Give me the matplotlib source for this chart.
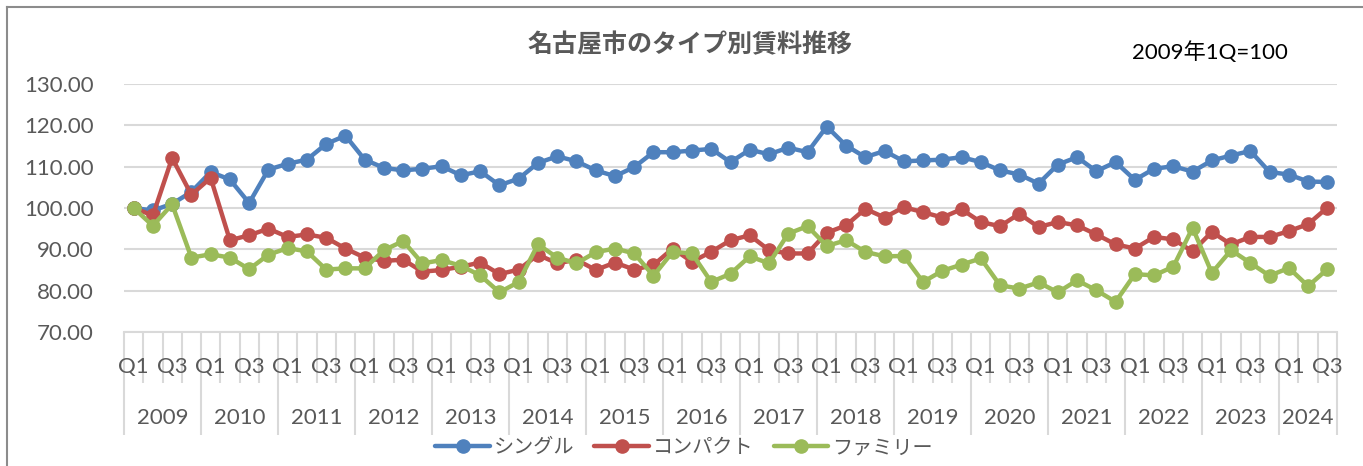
import matplotlib
matplotlib.use("Agg")
import matplotlib.pyplot as plt
import matplotlib.transforms as mtransforms
from matplotlib.lines import Line2D
import numpy as np

plt.rcParams["font.family"] = ["Lato", "Noto Sans CJK JP", "DejaVu Sans"]

# 2009年1Q=100 の指数（四半期ごと）
years = list(range(2009, 2025))
quarters = ["Q1", "Q2", "Q3", "Q4"]

single = [100.0, 99.4, 101.0, 103.9, 108.7, 106.9, 101.2, 109.3, 110.7, 111.7,
          115.5, 117.5, 111.7, 109.7, 109.1, 109.5, 110.1, 107.9, 108.9, 105.5,
          107.1, 110.9, 112.5, 111.3, 109.1, 107.7, 109.9, 113.5, 113.5, 113.9,
          114.3, 111.1, 114.1, 113.0, 114.6, 113.5, 119.7, 115.1, 112.3, 113.8,
          111.3, 111.5, 111.7, 112.3, 111.1, 109.1, 108.1, 105.9, 110.5, 112.3,
          108.9, 111.1, 106.8, 109.5, 110.1, 108.8, 111.5, 112.7, 113.8, 108.7,
          108.1, 106.4, 106.3]
compact = [100.0, 98.2, 112.1, 103.2, 107.3, 92.2, 93.4, 95.0, 93.0, 93.6,
           92.8, 90.2, 88.0, 87.2, 87.5, 84.6, 85.0, 85.8, 86.8, 84.0,
           85.1, 88.7, 86.6, 87.5, 85.0, 86.8, 85.1, 86.2, 90.2, 87.0,
           89.4, 92.2, 93.4, 89.8, 89.0, 89.0, 94.0, 95.8, 99.8, 97.7,
           100.2, 99.0, 97.7, 99.7, 96.6, 95.6, 98.6, 95.4, 96.6, 95.8,
           93.6, 91.2, 90.2, 93.0, 92.4, 89.5, 94.2, 91.2, 93.0, 93.0,
           94.4, 96.1, 100.1]
family = [100.0, 95.7, 100.9, 88.0, 88.8, 88.0, 85.2, 88.7, 90.3, 89.5,
          85.1, 85.4, 85.4, 89.8, 92.0, 86.6, 87.4, 86.0, 83.7, 79.6,
          82.1, 91.2, 88.0, 86.6, 89.3, 90.2, 89.0, 83.6, 89.4, 89.0,
          82.1, 84.1, 88.3, 86.6, 93.8, 95.6, 90.8, 92.2, 89.4, 88.3,
          88.4, 82.1, 84.8, 86.3, 87.8, 81.3, 80.5, 82.0, 79.6, 82.5,
          80.1, 77.3, 84.0, 83.7, 85.8, 95.2, 84.3, 89.8, 86.7, 83.6,
          85.5, 81.1, 85.2]

series = [("シングル", single, "#4F81BD"),
          ("コンパクト", compact, "#C0504D"),
          ("ファミリー", family, "#9BBB59")]

# 2024年はQ3まで
n = len(single)
q_labels = [quarters[i % 4] for i in range(n)]
year_of = [years[i // 4] for i in range(n)]

TXT = "#595959"
GRID = "#D9D9D9"
W, H = 1363, 466

fig = plt.figure(figsize=(W / 100, H / 100), dpi=100)
ax = fig.add_axes([124 / W, 1 - 332 / H, 1213 / W, 248 / H])

x = np.arange(n)
for name, vals, col in series:
    ax.plot(x, vals, color=col, lw=3.2, marker="o", ms=9.5,
            solid_capstyle="round", label=name, clip_on=False)

ax.set_xlim(-0.5, n - 0.5)
ax.set_ylim(70, 130)
ax.set_yticks(np.arange(70, 131, 10))
ax.yaxis.set_major_formatter(plt.FuncFormatter(lambda v, p: f"{v:.2f}"))
ax.grid(True, axis="y", color=GRID, lw=1.5)
ax.set_axisbelow(True)
for s in ["left", "right", "top"]:
    ax.spines[s].set_visible(False)
ax.spines["bottom"].set_color(GRID)
ax.spines["bottom"].set_linewidth(1.5)
ax.tick_params(axis="y", length=0, pad=22, labelsize=16, labelcolor=TXT)

# 区切り線: 年の境界は長く、四半期の境界は短く
bounds = np.arange(n + 1) - 0.5
year_bounds = [b for i, b in enumerate(bounds) if i % 4 == 0 or i == n]
q_bounds = [b for b in bounds if b not in year_bounds]
ax.set_xticks(year_bounds)
ax.set_xticks(q_bounds, minor=True)
ax.tick_params(axis="x", which="major", length=74, width=1.5, color=GRID,
               labelbottom=False)
ax.tick_params(axis="x", which="minor", length=37, width=1.5, color=GRID,
               labelbottom=False)

trans = mtransforms.blended_transform_factory(ax.transData, ax.transAxes)
for i in range(0, n, 2):
    ax.text(i, -0.141, q_labels[i], transform=trans, ha="center", va="center",
            fontsize=16, color=TXT)
for y in years:
    idx = [i for i in range(n) if year_of[i] == y]
    ax.text((idx[0] + idx[-1]) / 2, -0.347, str(y), transform=trans,
            ha="center", va="center", fontsize=16, color=TXT)

fig.text(690 / W, 1 - 45 / H, "名古屋市のタイプ別賃料推移", ha="center",
         va="center", fontsize=18, fontweight="bold", color=TXT,
         family=["Noto Sans CJK JP"])
fig.text(1210 / W, 1 - 52 / H, "2009年1Q=100", ha="center", va="center",
         fontsize=16, color="black")

fig.legend(loc="center", bbox_to_anchor=(684 / W, 1 - 447 / H), ncol=3,
           frameon=False, fontsize=14.5, handlelength=2.7, handletextpad=0.2,
           columnspacing=1.0, labelcolor=TXT)

# 外枠（左と上）
fig.add_artist(Line2D([7 / W, 7 / W], [0, 1 - 7 / H], transform=fig.transFigure,
                      color="#8C8C8C", lw=1.5))
fig.add_artist(Line2D([7 / W, 1], [1 - 7 / H, 1 - 7 / H], transform=fig.transFigure,
                      color="#8C8C8C", lw=1.5))

fig.savefig("out.png", dpi=100)
